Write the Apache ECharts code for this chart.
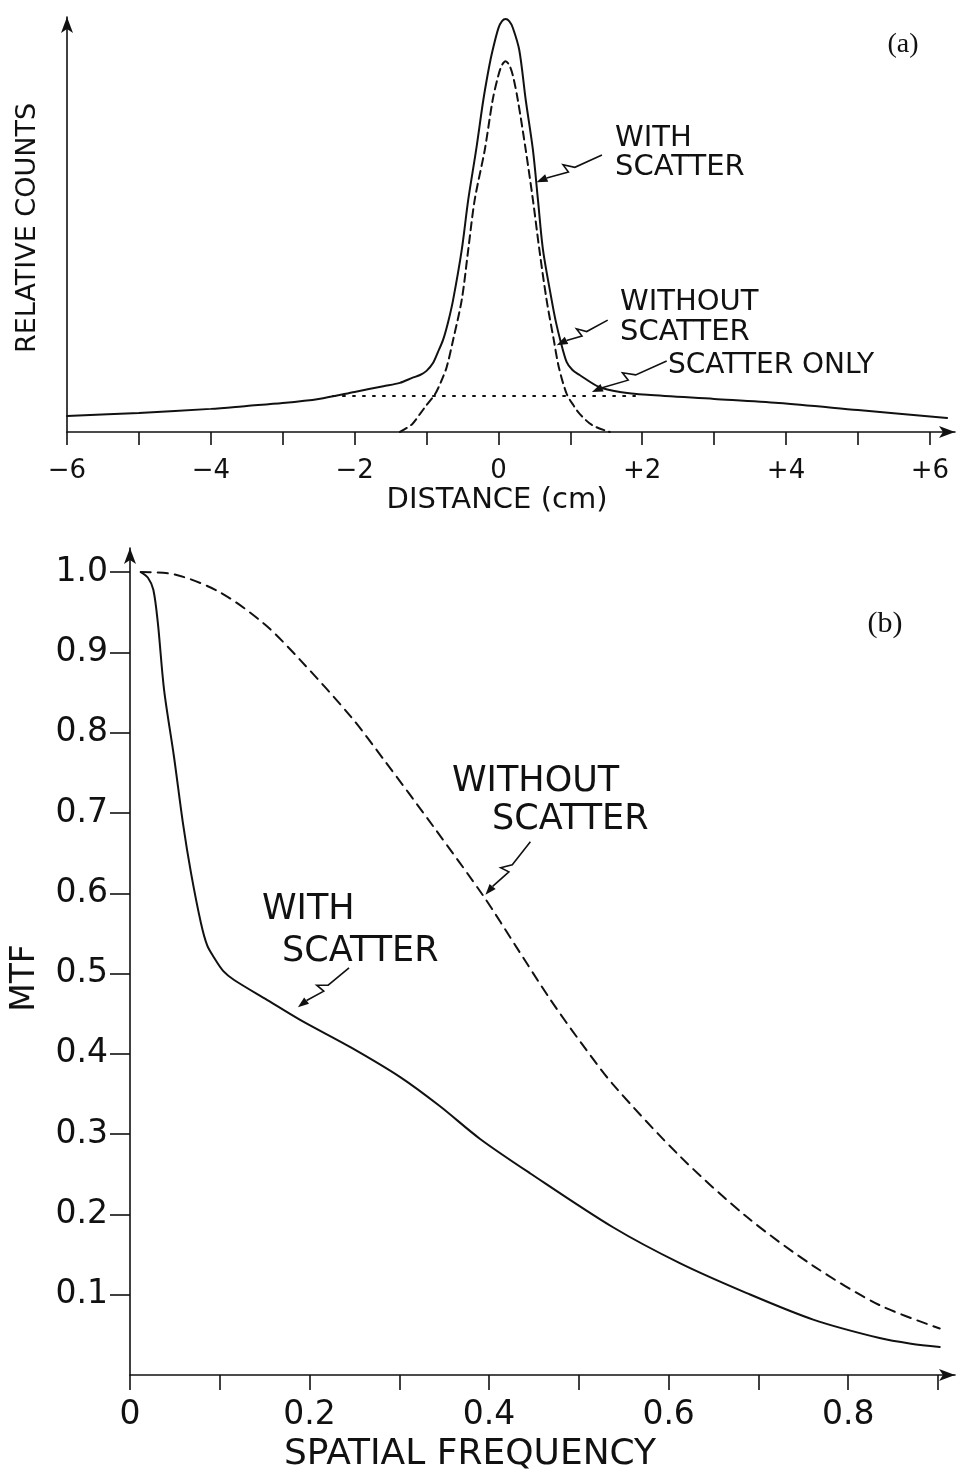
<!DOCTYPE html>
<html>
<head>
<meta charset="utf-8">
<title>Line spread and MTF, with and without scatter</title>
<style>
  html, body { margin: 0; padding: 0; background: #fff; }
  #main { width: 963px; height: 1476px; }
</style>
</head>
<body>
<div id="main"></div>
<script src="https://cdn.jsdelivr.net/npm/echarts@6/dist/echarts.min.js"></script>
<script>
// (a) distance (cm) vs relative counts, scaled so the "with scatter" peak is 1
var psfWithScatter = [
  [-6.0, 0.039], [-5.0, 0.046], [-4.0, 0.056], [-3.5, 0.063], [-3.0, 0.070],
  [-2.5, 0.080], [-2.0, 0.097], [-1.6, 0.111], [-1.37, 0.119], [-1.2, 0.131],
  [-1.09, 0.138], [-1.0, 0.148], [-0.91, 0.167], [-0.84, 0.194], [-0.77, 0.223],
  [-0.70, 0.266], [-0.63, 0.320], [-0.51, 0.441], [-0.42, 0.562], [-0.31, 0.683],
  [-0.21, 0.804], [-0.13, 0.884], [-0.08, 0.925], [0.0, 0.978], [0.05, 0.995],
  [0.10, 1.0], [0.15, 0.995], [0.20, 0.979], [0.29, 0.925], [0.38, 0.804],
  [0.48, 0.683], [0.55, 0.562], [0.62, 0.441], [0.74, 0.320], [0.80, 0.266],
  [0.86, 0.223], [0.95, 0.169], [1.03, 0.150], [1.13, 0.138], [1.40, 0.109],
  [1.69, 0.097], [2.07, 0.090], [3.0, 0.080], [3.9, 0.070], [5.0, 0.053],
  [6.24, 0.034]
];
var psfWithoutScatter = [
  [-1.37, 0.0], [-1.2, 0.019], [-1.09, 0.044], [-1.0, 0.065], [-0.88, 0.092],
  [-0.80, 0.121], [-0.72, 0.157], [-0.63, 0.223], [-0.51, 0.320], [-0.42, 0.441],
  [-0.33, 0.562], [-0.19, 0.683], [-0.08, 0.804], [0.0, 0.864], [0.05, 0.889],
  [0.10, 0.898], [0.15, 0.889], [0.20, 0.864], [0.27, 0.804], [0.38, 0.683],
  [0.48, 0.562], [0.57, 0.441], [0.67, 0.320], [0.77, 0.223], [0.84, 0.157],
  [0.95, 0.092], [1.05, 0.063], [1.13, 0.044], [1.30, 0.017], [1.55, 0.0]
];
var psfScatterOnly = [[-2.3, 0.087], [1.9, 0.087]];
var distTicks = [-6, -5, -4, -3, -2, -1, 0, 1, 2, 3, 4, 5, 6];
var distLabels = [-6, -4, -2, 0, 2, 4, 6];

// (b) MTF vs spatial frequency
var mtfWithScatter = [
  [0.012, 1.0], [0.02, 0.993], [0.026, 0.978], [0.031, 0.937], [0.038, 0.853],
  [0.049, 0.770], [0.059, 0.687], [0.068, 0.625], [0.079, 0.563], [0.086, 0.535],
  [0.093, 0.521], [0.104, 0.503], [0.116, 0.492], [0.153, 0.467], [0.19, 0.442],
  [0.246, 0.408], [0.301, 0.371], [0.345, 0.335], [0.39, 0.294], [0.446, 0.251],
  [0.538, 0.184], [0.613, 0.139], [0.687, 0.102], [0.761, 0.069], [0.835, 0.046],
  [0.87, 0.039], [0.902, 0.035]
];
var mtfWithoutScatter = [
  [0.012, 1.0], [0.05, 0.997], [0.10, 0.975], [0.15, 0.935], [0.19, 0.890],
  [0.246, 0.820], [0.283, 0.766], [0.338, 0.683], [0.394, 0.596], [0.431, 0.532],
  [0.468, 0.468], [0.503, 0.413], [0.538, 0.362], [0.613, 0.272], [0.687, 0.197],
  [0.761, 0.136], [0.835, 0.087], [0.902, 0.058]
];
var freqTicks = [0, 0.1, 0.2, 0.3, 0.4, 0.5, 0.6, 0.7, 0.8, 0.9];
var freqLabels = [0, 0.2, 0.4, 0.6, 0.8];
var mtfTicks = [0.1, 0.2, 0.3, 0.4, 0.5, 0.6, 0.7, 0.8, 0.9, 1.0];

var ink = '#111';
var font = "'DejaVu Sans', sans-serif";
var serif = "'Liberation Serif', 'DejaVu Serif', serif";

var chart = echarts.init(document.getElementById('main'), null, { renderer: 'canvas' });

function axisLine() {
  return {
    show: true, onZero: false,
    symbol: ['none', 'arrow'], symbolSize: [9, 16],
    lineStyle: { color: ink, width: 1.6 }
  };
}

function curve(name, data, gi, type) {
  return {
    name: name, type: 'line', data: data,
    xAxisIndex: gi, yAxisIndex: gi,
    showSymbol: false, smooth: 0.3,
    clip: false, silent: true, animation: false,
    lineStyle: { color: ink, width: 2, type: type, cap: 'round' }
  };
}

chart.setOption({
  animation: false,
  backgroundColor: '#fff',
  grid: [
    { left: 67, right: 8, top: 17, bottom: 1044 },
    { left: 130, right: 8, top: 548, bottom: 101 }
  ],
  xAxis: [
    {
      gridIndex: 0, type: 'value', min: -6, max: 6.35,
      axisLine: axisLine(),
      axisTick: { show: true, customValues: distTicks, length: 13, lineStyle: { color: ink, width: 1.6 } },
      axisLabel: {
        customValues: distLabels, fontSize: 26, color: ink, fontFamily: font, margin: 26,
        formatter: function (v) { return v > 0 ? '+' + v : (v < 0 ? '\u2212' + (-v) : '0'); }
      },
      splitLine: { show: false }
    },
    {
      gridIndex: 1, type: 'value', min: 0, max: 0.919,
      axisLine: axisLine(),
      axisTick: { show: true, customValues: freqTicks, length: 15, lineStyle: { color: ink, width: 1.6 } },
      axisLabel: {
        customValues: freqLabels, fontSize: 33, color: ink, fontFamily: font, margin: 24,
        formatter: function (v) { return v === 0 ? '0' : v.toFixed(1); }
      },
      splitLine: { show: false }
    }
  ],
  yAxis: [
    {
      gridIndex: 0, type: 'value', min: 0, max: 1.005,
      axisLine: axisLine(),
      axisTick: { show: false },
      axisLabel: { show: false },
      splitLine: { show: false }
    },
    {
      gridIndex: 1, type: 'value', min: 0, max: 1.03,
      axisLine: axisLine(),
      axisTick: { show: true, customValues: mtfTicks, length: 20, lineStyle: { color: ink, width: 1.6 } },
      axisLabel: {
        customValues: mtfTicks, fontSize: 33, color: ink, fontFamily: font, margin: 22,
        formatter: function (v) { return v.toFixed(1); }
      },
      splitLine: { show: false }
    }
  ],
  series: [
    curve('With scatter', psfWithScatter, 0, 'solid'),
    curve('Without scatter', psfWithoutScatter, 0, [8, 5]),
    curve('Scatter only', psfScatterOnly, 0, [2, 8]),
    curve('With scatter', mtfWithScatter, 1, 'solid'),
    curve('Without scatter', mtfWithoutScatter, 1, [10, 7])
  ]
});

// labels and the little zigzag pointers
function text(str, x, y, size, opts) {
  opts = opts || {};
  return {
    type: 'text', x: x, y: y, rotation: opts.rotation || 0, silent: true,
    style: {
      text: str, fill: ink, fontSize: size, fontFamily: opts.family || font,
      align: opts.align || 'left', verticalAlign: 'middle'
    }
  };
}

function pointer(gi, from, to) {
  var s = chart.convertToPixel({ gridIndex: gi }, from);
  var t = chart.convertToPixel({ gridIndex: gi }, to);
  var dx = t[0] - s[0], dy = t[1] - s[1];
  var len = Math.sqrt(dx * dx + dy * dy);
  var ux = dx / len, uy = dy / len, nx = -uy, ny = ux;
  function p(a, b) { return [s[0] + ux * a * len + nx * b, s[1] + uy * a * len + ny * b]; }
  var head = 11;
  var base = [t[0] - ux * head, t[1] - uy * head];
  return [
    {
      type: 'polyline', silent: true,
      shape: { points: [p(0, 0), p(0.42, -1), p(0.56, 6), p(0.53, -3), base] },
      style: { stroke: ink, lineWidth: 1.6, fill: null }
    },
    {
      type: 'polygon', silent: true,
      shape: { points: [t, [base[0] + nx * 4, base[1] + ny * 4], [base[0] - nx * 4, base[1] - ny * 4]] },
      style: { fill: ink }
    }
  ];
}

var g = [
  text('(a)', 903, 45, 28, { family: serif, align: 'center' }),
  text('WITH', 615, 138, 29),
  text('SCATTER', 615, 167, 29),
  text('WITHOUT', 620, 302, 29),
  text('SCATTER', 620, 332, 29),
  text('SCATTER ONLY', 668, 366, 28),
  text('RELATIVE COUNTS', 28, 228, 27, { rotation: Math.PI / 2, align: 'center' }),
  text('DISTANCE (cm)', 497, 500, 29, { align: 'center' }),
  text('(b)', 885, 624, 30, { family: serif, align: 'center' }),
  text('WITHOUT', 452, 782, 35),
  text('SCATTER', 492, 820, 35),
  text('WITH', 262, 910, 35),
  text('SCATTER', 282, 952, 35),
  text('MTF', 25, 978, 33, { rotation: Math.PI / 2, align: 'center' }),
  text('SPATIAL FREQUENCY', 470, 1455, 36, { align: 'center' })
];
g = g.concat(
  pointer(0, [1.44, 0.671], [0.53, 0.605]),
  pointer(0, [1.52, 0.271], [0.81, 0.21]),
  pointer(0, [2.34, 0.172], [1.30, 0.097]),
  pointer(1, [0.446, 0.664], [0.396, 0.598]),
  pointer(1, [0.244, 0.507], [0.187, 0.458])
);
chart.setOption({ graphic: g });

window.addEventListener('resize', function () { chart.resize(); });
</script>
</body>
</html>
